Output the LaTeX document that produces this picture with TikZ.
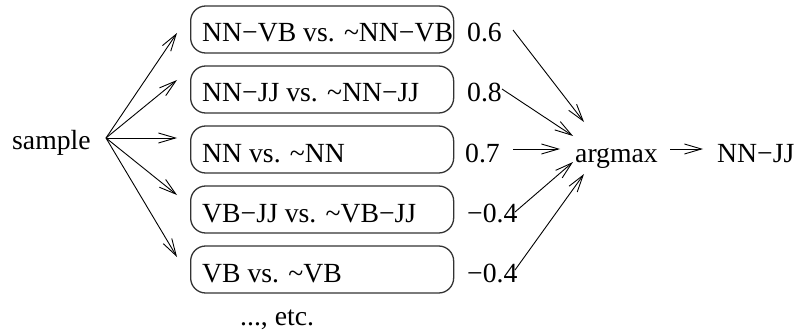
\documentclass[tikz,border=0pt]{standalone}
\usepackage{fontspec}
\setmainfont{Liberation Serif}
\usetikzlibrary{arrows.meta}
\tikzset{
  lab/.style={inner sep=0pt, font=\fontsize{27.7}{32}\selectfont, anchor=base west},
  cbox/.style={draw=black!80, line width=1.3pt, rounded corners=15pt, minimum width=263pt, minimum height=47pt, inner sep=0pt, anchor=west},
  arr/.style={line width=0.9pt, -{Straight Barb[length=17pt,width=10pt,line width=0.9pt]}}
}
\begin{document}
\begin{tikzpicture}[x=1pt,y=-1pt]
\useasboundingbox (0,0) rectangle (799,334);
% boxes
\node[cbox] (b1) at (190,29.5) {};
\node[cbox] (b2) at (190,89.5) {};
\node[cbox] (b3) at (190,149.5) {};
\node[cbox] (b4) at (190,209.5) {};
\node[cbox] (b5) at (190,269.5) {};
% box texts
\node[lab] (t1) at (202,42) {NN−VB vs. \textasciitilde NN−VB};
\node[lab] (t2) at (202,102) {NN−JJ vs. \textasciitilde NN−JJ};
\node[lab] (t3) at (202,162) {NN vs. \textasciitilde NN};
\node[lab] (t4) at (202,222) {VB−JJ vs. \textasciitilde VB−JJ};
\node[lab] (t5) at (202,282) {VB vs. \textasciitilde VB};
\node[lab] (etc) at (240,325) {..., etc.};
% left
\node[lab] (sample) at (12,149) {sample};
% scores
\node[lab] (s1) at (467,42) {0.6};
\node[lab] (s2) at (467,102) {0.8};
\node[lab] (s3) at (465,162) {0.7};
\node[lab] (s4) at (467,222) {−0.4};
\node[lab] (s5) at (467,282) {−0.4};
% right
\node[lab] (argmax) at (575,162) {argmax};
\node[lab] (res) at (717,162) {NN−JJ};
% arrow end points
\coordinate (src) at (106,138);
\coordinate (e1) at (177,33);
\coordinate (e2) at (177,80);
\coordinate (e3) at (177,138);
\coordinate (e4) at (177,195);
\coordinate (e5) at (177,257);
\coordinate (p1) at (513,30);
\coordinate (p2) at (502,89);
\coordinate (p3) at (513,149);
\coordinate (p4) at (515,212);
\coordinate (p5) at (515,270);
\coordinate (q1) at (584,122);
\coordinate (q2) at (573,136);
\coordinate (q3) at (560,149);
\coordinate (q4) at (573,162);
\coordinate (q5) at (584,174);
\coordinate (r0) at (670,149);
\coordinate (r1) at (703,149);
% arrows
\foreach \i in {1,...,5} {\draw[arr] (src) -- (e\i);}
\foreach \i in {1,...,5} {\draw[arr] (p\i) -- (q\i);}
\draw[arr] (r0) -- (r1);
\end{tikzpicture}
\end{document}
